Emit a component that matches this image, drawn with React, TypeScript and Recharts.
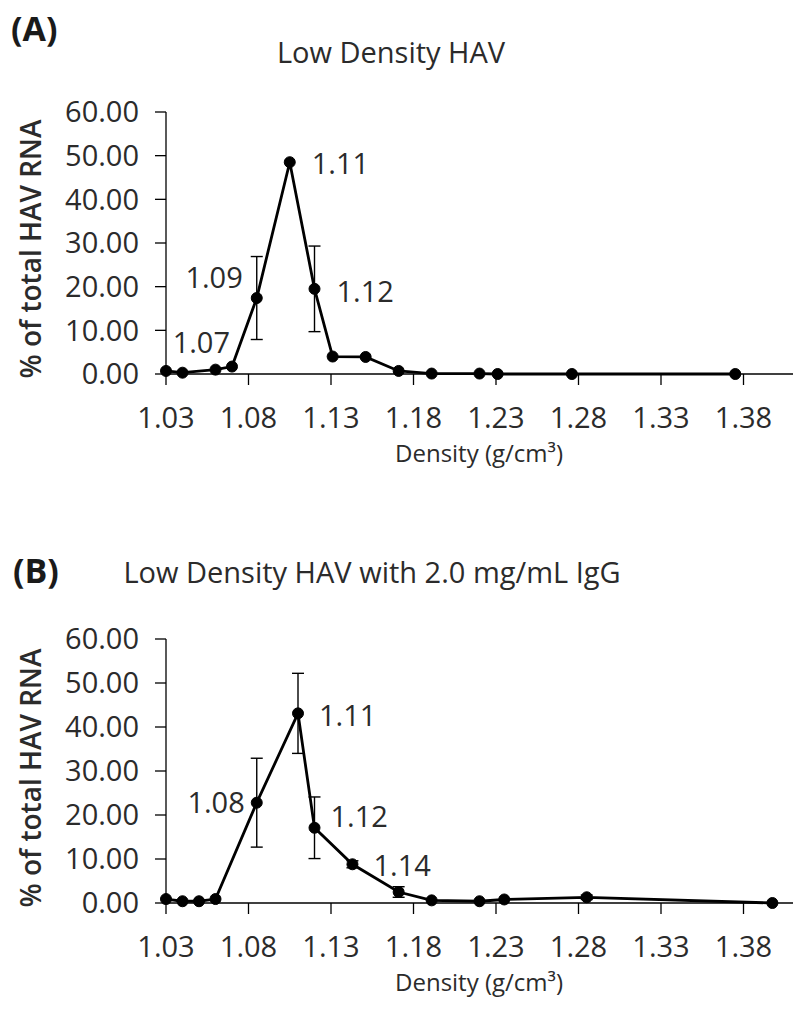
import React from 'react';
import { ComposedChart, Line, XAxis, YAxis, ErrorBar, LabelList } from 'recharts';

// Panel A: Low Density HAV
const densityA = [1.03, 1.04, 1.06, 1.07, 1.085, 1.105, 1.12, 1.131, 1.151, 1.171, 1.191, 1.22, 1.231, 1.276, 1.375];
const percentA = [0.7, 0.3, 1.0, 1.7, 17.4, 48.5, 19.5, 4.0, 3.9, 0.7, 0.1, 0.1, 0.0, 0.0, 0.0];
const errorA = [null, null, null, null, 9.5, null, 9.8, null, null, null, null, null, null, null, null];
const labelsA = ['', '', '', '1.07', '1.09', '1.11', '1.12', '', '', '', '', '', '', '', ''];

// Panel B: Low Density HAV with 2.0 mg/mL IgG
const densityB = [1.03, 1.04, 1.05, 1.06, 1.085, 1.11, 1.12, 1.143, 1.171, 1.191, 1.22, 1.235, 1.285, 1.3975];
const percentB = [0.9, 0.4, 0.4, 0.9, 22.8, 43.1, 17.1, 8.8, 2.5, 0.6, 0.4, 0.8, 1.3, 0.0];
const errorB = [null, null, null, null, 10.1, 9.1, 7.0, 0.8, 1.2, null, null, null, 0.5, null];
const labelsB = ['', '', '', '', '1.08', '1.11', '1.12', '1.14', '', '', '', '', '', ''];

const X_TICKS = [1.03, 1.08, 1.13, 1.18, 1.23, 1.28, 1.33, 1.38];
const Y_TICKS = [0, 10, 20, 30, 40, 50, 60];

// label placement relative to its point: [dx, dy, anchor]
const LABEL_OFFSETS_A: Record<string, [number, number, string]> = {
  '1.07': [-2, -24, 'end'],
  '1.09': [-14, -20, 'end'],
  '1.11': [22, 2, 'start'],
  '1.12': [22, 3, 'start'],
};
const LABEL_OFFSETS_B: Record<string, [number, number, string]> = {
  '1.08': [-12, 0, 'end'],
  '1.11': [21, 3, 'start'],
  '1.12': [16, -11, 'start'],
  '1.14': [21, 2, 'start'],
};

const FONT = '"Open Sans", sans-serif';
const TEXT = '#2b2b2b';

const rowsOf = (d: number[], p: number[], e: (number | null)[], l: string[]) =>
  d.map((x, i) => ({ d: x, p: p[i], e: e[i], label: l[i] }));

const fmt = (v: number) => v.toFixed(2);

function makeLabel(offsets: Record<string, [number, number, string]>) {
  return (props: any) => {
    const { value } = props;
    if (!value) return null;
    const x = props.x ?? props.viewBox?.x;
    const y = props.y ?? props.viewBox?.y;
    const [dx, dy, anchor] = offsets[value] || [20, 0, 'start'];
    return (
      <text x={x + dx} y={y + dy + 10} textAnchor={anchor} fill={TEXT} fontSize={29} fontFamily={FONT}>
        {value}
      </text>
    );
  };
}

interface PanelProps {
  data: any[];
  offsets: Record<string, [number, number, string]>;
  height: number;
  marginTop: number;
  xAxisHeight: number;
}

function Panel({ data, offsets, height, marginTop, xAxisHeight }: PanelProps) {
  return (
    <ComposedChart width={793} height={height} data={data} margin={{ top: marginTop, right: 0, left: 0, bottom: 0 }}>
      <XAxis
        dataKey="d"
        type="number"
        domain={[1.03, 1.41]}
        ticks={X_TICKS}
        interval={0}
        tickFormatter={fmt}
        height={xAxisHeight}
        tickSize={11}
        tickMargin={22}
        axisLine={{ stroke: '#000', strokeWidth: 1.3 }}
        tickLine={{ stroke: '#000', strokeWidth: 1.3 }}
        tick={{ fill: TEXT, fontSize: 29, fontFamily: FONT }}
      />
      <YAxis
        type="number"
        domain={[0, 60]}
        ticks={Y_TICKS}
        interval={0}
        tickFormatter={fmt}
        width={166}
        tickSize={11}
        tickMargin={16}
        axisLine={{ stroke: '#000', strokeWidth: 1.3 }}
        tickLine={{ stroke: '#000', strokeWidth: 1.3 }}
        tick={{ fill: TEXT, fontSize: 29, fontFamily: FONT }}
      />
      <Line
        type="linear"
        dataKey="p"
        stroke="#000"
        strokeWidth={2.8}
        dot={{ r: 5.5, fill: '#000', stroke: '#000', strokeWidth: 1 }}
        activeDot={false}
        isAnimationActive={false}
      >
        <ErrorBar dataKey="e" direction="y" width={6} stroke="#000" strokeWidth={1.4} isAnimationActive={false} />
        <LabelList dataKey="label" content={makeLabel(offsets)} />
      </Line>
    </ComposedChart>
  );
}

export default function App() {
  const dataA = rowsOf(densityA, percentA, errorA, labelsA);
  const dataB = rowsOf(densityB, percentB, errorB, labelsB);
  return (
    <div style={{ position: 'absolute', left: 0, top: 0, width: 793, height: 1015, background: '#fff', fontFamily: FONT }}>
      <div style={{ position: 'absolute', left: 0, top: 0 }}>
        <Panel data={dataA} offsets={LABEL_OFFSETS_A} height={500} marginTop={112} xAxisHeight={126} />
      </div>
      <div style={{ position: 'absolute', left: 0, top: 500 }}>
        <Panel data={dataB} offsets={LABEL_OFFSETS_B} height={515} marginTop={139} xAxisHeight={112} />
      </div>
      <svg width={793} height={1015} style={{ position: 'absolute', left: 0, top: 0, pointerEvents: 'none' }} fontFamily={FONT}>
        <text x={11} y={41} fontSize={34} fontWeight={700} fill="#1a1a1a">(A)</text>
        <text x={391} y={63} fontSize={29} fill={TEXT} textAnchor="middle">Low Density HAV</text>
        <text x={479} y={462} fontSize={24} fill={TEXT} textAnchor="middle">Density (g/cm³)</text>
        <text transform="translate(41,249) rotate(-90)" fontSize={28} fontWeight={600} fill={TEXT} textAnchor="middle">
          % of total HAV RNA
        </text>

        <text x={13} y={583} fontSize={34} fontWeight={700} fill="#1a1a1a">(B)</text>
        <text x={372} y={583} fontSize={29} fill={TEXT} textAnchor="middle">Low Density HAV with 2.0 mg/mL IgG</text>
        <text x={479} y={991} fontSize={24} fill={TEXT} textAnchor="middle">Density (g/cm³)</text>
        <text transform="translate(41,778) rotate(-90)" fontSize={28} fontWeight={600} fill={TEXT} textAnchor="middle">
          % of total HAV RNA
        </text>
      </svg>
    </div>
  );
}
